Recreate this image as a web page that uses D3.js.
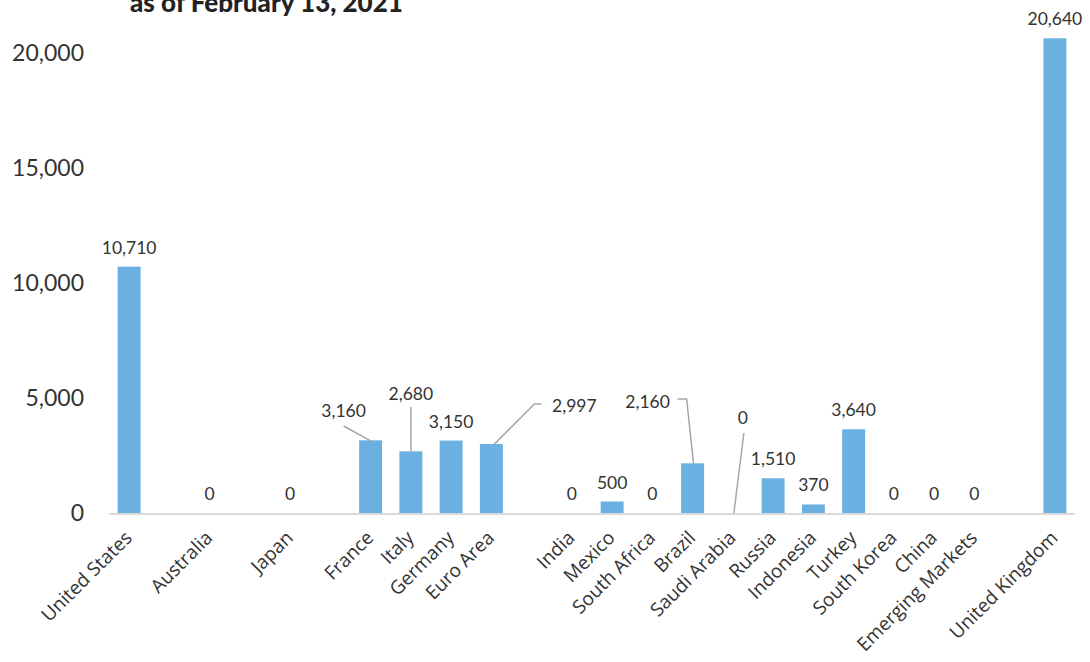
<!DOCTYPE html>
<html><head><meta charset="utf-8">
<script src="https://cdn.jsdelivr.net/npm/d3@7"></script>
<style>
html,body{margin:0;padding:0;background:#fff;}
svg{display:block;}
</style></head>
<body>
<svg id="chart" width="1090" height="662"></svg>
<script>
const title = "as of February 13, 2021";
const categories = ["United States","Australia","Japan","France","Italy","Germany","Euro Area","India","Mexico","South Africa","Brazil","Saudi Arabia","Russia","Indonesia","Turkey","South Korea","China","Emerging Markets","United Kingdom"];
const values = [10710,0,0,3160,2680,3150,2997,0,500,0,2160,0,1510,370,3640,0,0,0,20640];
const valueLabels = ["10,710","0","0","3,160","2,680","3,150","2,997","0","500","0","2,160","0","1,510","370","3,640","0","0","0","20,640"];
const yTicks = [0,5000,10000,15000,20000];
// band slots, with empty gaps between groups
const slots = ["United States","gap1","Australia","gap2","Japan","gap3","France","Italy","Germany","Euro Area","gap4","India","Mexico","South Africa","Brazil","Saudi Arabia","Russia","Indonesia","Turkey","South Korea","China","Emerging Markets","gap5","United Kingdom"];

const svg = d3.select("#chart");
const x = d3.scaleBand().domain(slots).range([109,1075]).paddingInner(0.43).paddingOuter(0.215);
const y = d3.scaleLinear().domain([0,20000]).range([513,53]);

// title (cut at top, as in the reference)
svg.append("text").attr("x",130).attr("y",12)
  .style("font-family","Lato, 'Open Sans', sans-serif").style("font-weight",900)
  .style("font-size","26px").attr("fill","#222").text(title);

// y axis labels
svg.append("g").selectAll("text").data(yTicks).join("text")
  .attr("x",84).attr("y",d=>y(d)).attr("dy","0.35em").attr("text-anchor","end")
  .style("font-family","Lato, sans-serif").style("font-size","23px").attr("fill","#333")
  .text(d=>d3.format(",")(d));

// baseline axis
svg.append("line").attr("x1",109).attr("x2",1075).attr("y1",y(0)+1).attr("y2",y(0)+1)
  .attr("stroke","#d9d9d9").attr("stroke-width",2);

const data = categories.map((c,i)=>({c, v:values[i], lab:valueLabels[i]}));

svg.append("g").selectAll("rect").data(data).join("rect")
  .attr("x",d=>x(d.c)).attr("width",x.bandwidth())
  .attr("y",d=>y(d.v)).attr("height",d=>y(0)-y(d.v))
  .attr("fill","#6ab0e0");

// custom label placements (offsets relative to bar center / top)
const special = {
  "France": {dx:-27, ty:417, line:[[-27,426],[1,null]]},
  "Italy": {dx:0, ty:400, line:[[0,407],[0,null]]},
  "Euro Area": {dx:83, ty:412, line:[[50,404],[43,404],[2,null]]},
  "Brazil": {dx:-45, ty:408, line:[[-15,399],[-6,399],[1,null]]},
  "Saudi Arabia": {dx:10, ty:424, line:[[11,433],[1,513]]}
};

const g = svg.append("g");
data.forEach(d=>{
  const cx = x(d.c)+x.bandwidth()/2;
  const s = special[d.c];
  let tx = cx, ty = y(d.v)-13;
  if(s){
    tx = cx+s.dx; ty = s.ty;
    const pts = s.line.map(p=>[cx+p[0], p[1]===null? y(d.v)+1 : p[1]]);
    g.append("path").attr("d",d3.line()(pts)).attr("fill","none")
      .attr("stroke","#a6a6a6").attr("stroke-width",1.5);
  }
  g.append("text").attr("x",tx).attr("y",ty).attr("text-anchor","middle")
    .style("font-family","Lato, sans-serif").style("font-size","17.5px").attr("fill","#333")
    .text(d.lab);
});

// category labels
svg.append("g").selectAll("text").data(categories).join("text")
  .attr("transform",c=>`translate(${x(c)+x.bandwidth()/2+4},${539}) rotate(-45)`)
  .attr("text-anchor","end")
  .style("font-family","'Open Sans', sans-serif").style("font-size","19px").attr("fill","#333")
  .text(c=>c);
</script>
</body></html>
